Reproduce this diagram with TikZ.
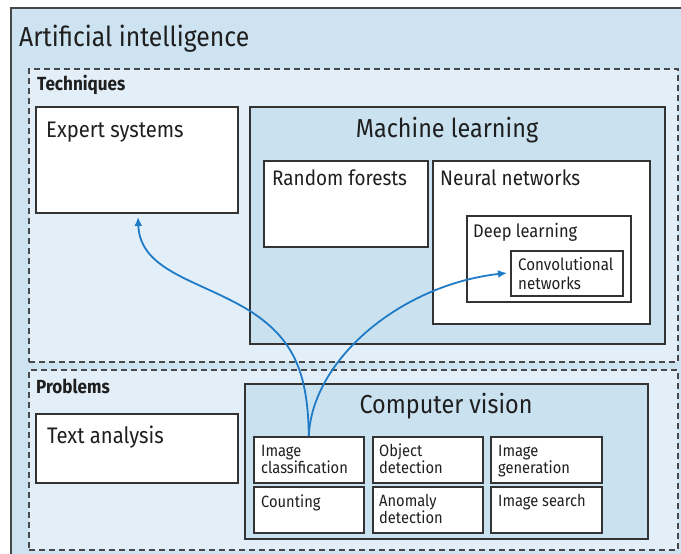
\documentclass[tikz,border=0pt]{standalone}
\usepackage{fontspec}
\setmainfont{Fira Sans}[FakeStretch=0.9]
\usetikzlibrary{arrows.meta,calc}
\definecolor{aiblue}{HTML}{CDE3F1}
\definecolor{paleblue}{HTML}{E3EFF8}
\definecolor{midblue}{HTML}{CAE1F0}
\definecolor{edge}{HTML}{333333}
\definecolor{dashedge}{HTML}{484848}
\definecolor{arrowblue}{HTML}{1F7BC6}
\begin{document}
\begin{tikzpicture}[x=1pt,y=-1pt,
  frame/.style={draw=edge, line width=1.6pt, fill=white, inner sep=0pt, anchor=north west},
  zone/.style={draw=dashedge, line width=1.5pt, dash pattern=on 6pt off 4pt, fill=paleblue, inner sep=0pt, anchor=north west},
  txt/.style={inner sep=0pt, anchor=base west, text=black!88},
  hugetxt/.style={txt, font=\fontsize{27.5}{32}\selectfont},
  titletxt/.style={txt, anchor=base, font=\fontsize{26}{30}\selectfont},
  midtxt/.style={txt, font=\fontsize{21}{25}\selectfont},
  widetxt/.style={txt, font=\fontsize{22.5}{26}\selectfont},
  dltxt/.style={txt, font=\fontsize{18.3}{22}\selectfont},
  zonetxt/.style={txt, font=\bfseries\fontsize{19}{22}\selectfont},
  smalltxt/.style={txt, align=left, font=\fontsize{16.3}{16.5}\selectfont},
  conn/.style={draw=arrowblue, line width=1.8pt, -{Latex[length=9pt,width=8pt]}}
]
\useasboundingbox (0,0) rectangle (681,554);
\fill[white] (0,0) rectangle (681,554);
% outer frame
\node[frame, fill=aiblue, line width=2pt, draw=edge!90, minimum width=700pt, minimum height=580pt] (ai) at (10,7) {};
\node[hugetxt] (aitxt) at (19,46) {Artificial intelligence};
% zones
\node[zone, minimum width=649pt, minimum height=293pt] (tech) at (28,68) {};
\node[zonetxt] (techtxt) at (37,90) {Techniques};
\node[zone, minimum width=649pt, minimum height=180pt] (prob) at (28,369) {};
\node[zonetxt] (probtxt) at (36,393) {Problems};
% techniques
\node[frame, minimum width=202pt, minimum height=106pt] (es) at (35,106) {};
\node[widetxt] (estxt) at (46,137) {Expert systems};
\node[frame, fill=midblue, minimum width=415pt, minimum height=237pt] (ml) at (249,106) {};
\node[titletxt] (mltxt) at (447,137) {Machine learning};
\node[frame, minimum width=164pt, minimum height=86pt] (rf) at (263,160) {};
\node[midtxt] (rftxt) at (272,185) {Random forests};
\node[frame, minimum width=217pt, minimum height=163pt] (nn) at (432,160) {};
\node[midtxt] (nntxt) at (440,185) {Neural networks};
\node[frame, minimum width=164pt, minimum height=86pt] (dl) at (466,215) {};
\node[dltxt] (dltxtn) at (473,237) {Deep learning};
\node[frame, minimum width=112pt, minimum height=45pt] (cn) at (510,250) {};
\node[smalltxt, font=\fontsize{16.8}{19}\selectfont] (cntxt) at (518,289) {Convolutional\\networks};
% problems
\node[frame, minimum width=202pt, minimum height=69pt] (ta) at (35,413) {};
\node[widetxt] (tatxt) at (47,443) {Text analysis};
\node[frame, fill=midblue, minimum width=403pt, minimum height=155pt] (cv) at (244,383) {};
\node[titletxt] (cvtxt) at (446,413) {Computer vision};
\node[frame, minimum width=110pt, minimum height=46pt] (ic) at (253,436) {};
\node[smalltxt] (ictxt) at (261,473) {Image\\classification};
\node[frame, minimum width=110pt, minimum height=46pt] (od) at (372,436) {};
\node[smalltxt] (odtxt) at (379,473) {Object\\detection};
\node[frame, minimum width=111pt, minimum height=46pt] (ig) at (490,436) {};
\node[smalltxt] (igtxt) at (498,473) {Image\\generation};
\node[frame, minimum width=110pt, minimum height=46pt] (co) at (253,486) {};
\node[smalltxt] (cotxt) at (261,507) {Counting};
\node[frame, minimum width=110pt, minimum height=46pt] (ad) at (372,486) {};
\node[smalltxt] (adtxt) at (379,523) {Anomaly\\detection};
\node[frame, minimum width=111pt, minimum height=46pt] (is) at (490,486) {};
\node[smalltxt] (istxt) at (498,506) {Image search};
% connectors
\coordinate (estip) at (138,217);
\coordinate (cntip) at (507,273);
\coordinate (bend) at (250,311);
\draw[conn] (ic.north) .. controls (308,370) and (292,338) .. (bend) .. controls (200,280) and (140,272) .. (estip);
\draw[conn] (ic.north) .. controls (312,360) and (400,285) .. (cntip);
\end{tikzpicture}
\end{document}
